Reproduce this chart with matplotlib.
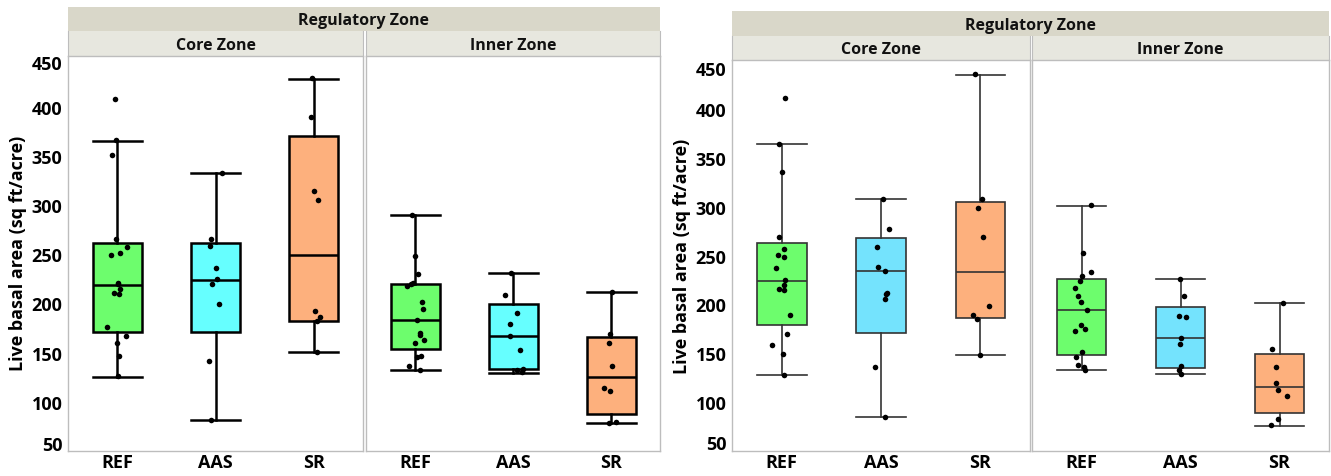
import numpy as np
import matplotlib
matplotlib.use("Agg")
import matplotlib.pyplot as plt

plt.rcParams['font.family'] = ['Open Sans', 'DejaVu Sans']
plt.rcParams['font.weight'] = 'bold'

W, H = 1331, 477
groups = ['REF', 'AAS', 'SR']
ylabel = 'Live basal area (sq ft/acre)'
yticks = [50, 100, 150, 200, 250, 300, 350, 400, 450]

# box stats: [whisker low, q1, median, q3, whisker high]
left_core_stats = {'REF': [125.7, 171.3, 218.6, 261.5, 365.5],
                   'AAS': [81.4, 170.6, 224.3, 261.5, 332.4],
                   'SR': [150.7, 182.4, 249.0, 370.3, 428.7]}
left_inner_stats = {'REF': [132.4, 153.4, 183.4, 219.6, 290.2],
                    'AAS': [129.4, 133.1, 166.9, 199.0, 231.4],
                    'SR': [78.0, 87.5, 125.0, 165.9, 211.5]}
right_core_stats = {'REF': [127.8, 179.0, 224.1, 262.7, 364.4],
                    'AAS': [84.7, 171.2, 233.9, 267.8, 307.5],
                    'SR': [147.8, 185.8, 233.2, 305.1, 434.9]}
right_inner_stats = {'REF': [132.5, 148.5, 194.6, 225.8, 301.0],
                     'AAS': [128.8, 134.9, 165.1, 197.6, 225.8],
                     'SR': [75.9, 88.5, 115.6, 148.8, 201.0]}

# points (values) and their horizontal jitter
left_core_pts = {
    'REF': [407.8, 366.0, 351.0, 265.9, 257.4, 251.7, 249.7, 220.3, 219.3, 214.2, 211.1, 209.5, 176.4, 167.2, 160.1, 147.0, 126.4],
    'AAS': [332.4, 265.9, 258.1, 236.1, 224.7, 220.0, 199.3, 141.6, 81.8],
    'SR': [429.0, 389.2, 314.2, 305.4, 192.6, 185.8, 182.4, 151.0]}
left_core_jit = {
    'REF': [-0.02, -0.01, -0.05, -0.01, 0.10, 0.03, -0.06, 0.01, 0.01, 0.03, -0.03, 0.02, -0.10, 0.09, 0.0, 0.02, 0.01],
    'AAS': [0.07, -0.05, -0.06, 0.0, 0.02, -0.04, 0.04, -0.07, -0.05],
    'SR': [-0.02, -0.03, 0.0, 0.04, 0.01, 0.06, 0.03, 0.03]}
left_inner_pts = {
    'REF': [290.2, 248.0, 230.1, 221.3, 219.6, 217.6, 201.4, 194.0, 183.4, 170.3, 167.9, 162.8, 160.1, 147.0, 145.6, 136.5, 132.8],
    'AAS': [231.4, 208.1, 190.5, 179.1, 166.9, 153.0, 133.4, 132.1, 130.7],
    'SR': [211.8, 168.6, 159.5, 136.1, 114.2, 110.5, 79.7, 78.0]}
left_inner_jit = {
    'REF': [-0.03, 0.0, 0.03, -0.02, -0.04, -0.08, 0.07, 0.08, 0.02, 0.05, 0.05, 0.09, 0.0, 0.06, 0.02, -0.06, 0.05],
    'AAS': [-0.02, -0.08, 0.04, -0.03, -0.03, 0.07, 0.10, 0.04, 0.09],
    'SR': [0.01, -0.01, -0.02, 0.01, -0.07, -0.01, 0.05, -0.02]}
right_core_pts = {
    'REF': [410.8, 364.4, 335.6, 268.8, 257.0, 250.8, 248.5, 237.3, 224.7, 219.7, 215.6, 214.6, 189.2, 169.5, 158.0, 149.2, 128.1],
    'AAS': [307.8, 277.0, 258.6, 238.6, 233.9, 211.5, 210.5, 205.8, 136.3, 84.7],
    'SR': [435.3, 307.5, 298.6, 269.2, 198.6, 189.2, 184.7, 147.8]}
right_core_jit = {
    'REF': [0.03, -0.03, 0.0, -0.03, 0.02, -0.04, 0.02, -0.06, 0.03, 0.02, -0.03, 0.02, 0.08, 0.05, -0.10, 0.01, 0.02],
    'AAS': [0.02, 0.08, -0.04, -0.03, 0.04, 0.06, 0.05, 0.04, -0.06, 0.04],
    'SR': [-0.05, 0.02, -0.02, 0.03, 0.09, -0.07, -0.03, 0.0]}
right_inner_pts = {
    'REF': [301.4, 252.5, 233.2, 228.8, 223.7, 216.6, 208.5, 202.4, 194.6, 179.0, 174.9, 173.2, 150.8, 146.1, 138.3, 136.3, 132.9],
    'AAS': [226.1, 208.5, 188.1, 187.5, 165.8, 159.7, 137.3, 133.2, 129.2],
    'SR': [201.4, 153.9, 135.6, 119.7, 112.9, 106.1, 83.1, 76.3]}
right_inner_jit = {
    'REF': [0.10, 0.02, 0.10, 0.0, -0.02, -0.07, -0.04, -0.01, 0.06, -0.01, 0.04, -0.07, 0.0, -0.06, -0.04, 0.03, 0.04],
    'AAS': [-0.01, 0.04, -0.02, 0.06, 0.0, -0.01, 0.0, -0.02, 0.01],
    'SR': [0.04, -0.08, -0.04, -0.04, -0.02, 0.08, -0.02, -0.09]}

left_colors = {'REF': '#6dfd6d', 'AAS': '#66ffff', 'SR': '#fdb07d'}
right_colors = {'REF': '#6dfd6d', 'AAS': '#74e3fd', 'SR': '#fdb07d'}

HEAD1 = '#d9d7c9'
HEAD2 = '#e7e7df'
FRAME = '#bdbdbd'


def px_axes(fig, x0, x1, ytop, ybot):
    return fig.add_axes([x0 / W, (H - ybot) / H, (x1 - x0) / W, (ybot - ytop) / H])


def header(fig, x0, x1, ytop, ybot, text, color, size, sides=False):
    ax = px_axes(fig, x0, x1, ytop, ybot)
    ax.set_facecolor(color)
    ax.set_xticks([])
    ax.set_yticks([])
    for k, s in ax.spines.items():
        if sides and k in ('left', 'right'):
            s.set_color(FRAME)
        else:
            s.set_visible(False)
    ax.text(0.5, 0.45, text, ha='center', va='center', fontsize=size,
            fontweight='bold', color='#111111', transform=ax.transAxes)
    return ax


def panel(ax, stats, pts, jit, colors, ylim, lw, lc, yoff=None):
    bx = []
    for g in groups:
        lo, q1, med, q3, hi = stats[g]
        bx.append({'whislo': lo, 'q1': q1, 'med': med, 'q3': q3, 'whishi': hi, 'fliers': []})
    res = ax.bxp(bx, positions=range(len(groups)), widths=0.5, patch_artist=True,
                 showfliers=False,
                 boxprops=dict(linewidth=lw, edgecolor=lc),
                 whiskerprops=dict(linewidth=lw, color=lc),
                 capprops=dict(linewidth=lw, color=lc),
                 medianprops=dict(linewidth=lw, color=lc),
                 capwidths=0.5)
    for patch, g in zip(res['boxes'], groups):
        patch.set_facecolor(colors[g])
    for i, g in enumerate(groups):
        x = i + np.array(jit[g])
        ax.scatter(x, pts[g], s=16, color='black', zorder=5, linewidths=0)
    ax.set_xlim(-0.5, 2.5)
    ax.set_ylim(*ylim)
    ax.set_xticks(range(len(groups)))
    ax.set_xticklabels(groups, fontsize=13, fontweight='bold')
    ax.tick_params(axis='both', length=0)
    ax.tick_params(axis='x', pad=1.5)
    for s in ax.spines.values():
        s.set_color(FRAME)
        s.set_linewidth(1.0)
    ax.set_yticks(yticks)
    if yoff is None:
        ax.set_yticklabels([])
        return
    # end labels are pushed inside the frame, as in the original
    ax.set_yticklabels([''] + [str(t) for t in yticks[1:-1]] + [''],
                       fontsize=13, fontweight='bold')
    ax.tick_params(axis='y', pad=4)
    for t, dy in ((yticks[0], yoff[0]), (yticks[-1], yoff[1])):
        ax.annotate(str(t), xy=(0, t), xycoords=('axes fraction', 'data'),
                    xytext=(-5.5, dy), textcoords='offset pixels',
                    ha='right', va='center', fontsize=13, fontweight='bold',
                    annotation_clip=False)


fig = plt.figure(figsize=(W / 100, H / 100), dpi=100)

# left chart
header(fig, 68, 660, 8, 32, 'Regulatory Zone', HEAD1, 11.5)
header(fig, 68, 363, 32, 57, 'Core Zone', HEAD2, 11.5, True)
header(fig, 366, 660, 32, 57, 'Inner Zone', HEAD2, 11.5, True)
ax1 = px_axes(fig, 68, 363, 57, 452)
ax2 = px_axes(fig, 366, 660, 57, 452)
panel(ax1, left_core_stats, left_core_pts, left_core_jit, left_colors, (51.4, 451.6), 1.8, 'black', (6, -6.5))
panel(ax2, left_inner_stats, left_inner_pts, left_inner_jit, left_colors, (51.4, 451.6), 1.8, 'black')
fig.text(18 / W, 1 - 253 / H, ylabel, rotation=90, ha='center', va='center',
         fontsize=13, fontweight='bold')

# right chart
header(fig, 732, 1329, 12, 37, 'Regulatory Zone', HEAD1, 11.5)
header(fig, 732, 1030, 37, 61, 'Core Zone', HEAD2, 11.5, True)
header(fig, 1032, 1329, 37, 61, 'Inner Zone', HEAD2, 11.5, True)
ax3 = px_axes(fig, 732, 1030, 61, 452)
ax4 = px_axes(fig, 1032, 1329, 61, 452)
panel(ax3, right_core_stats, right_core_pts, right_core_jit, right_colors, (51.9, 449.2), 1.2, '#333333', (7, -9.5))
panel(ax4, right_inner_stats, right_inner_pts, right_inner_jit, right_colors, (51.9, 449.2), 1.2, '#333333')
fig.text(682 / W, 1 - 256 / H, ylabel, rotation=90, ha='center', va='center',
         fontsize=13, fontweight='bold')

fig.savefig('out.png', dpi=100)
